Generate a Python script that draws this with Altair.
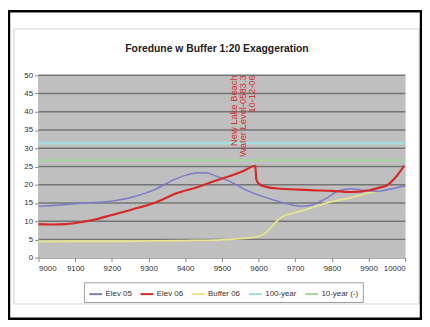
import altair as alt
import pandas as pd

series_names = ["Elev 05", "Elev 06", "Buffer 06", "100-year", "10-year (-)"]
series_colors = ["#7b7bc8", "#d62828", "#e6e68e", "#a6dcdc", "#a6d6a0"]

elev05_x = [9000, 9050, 9100, 9150, 9200, 9260, 9315, 9370, 9405, 9435, 9460, 9475, 9520, 9565,
            9610, 9655, 9690, 9715, 9740, 9760, 9790, 9815, 9850, 9885, 9920, 9960, 10000]
elev05_y = [14.1, 14.4, 14.8, 15.1, 15.5, 16.7, 18.6, 21.4, 22.7, 23.3, 23.2, 22.7, 21.0, 18.6,
            16.8, 15.4, 14.5, 14.1, 14.3, 15.0, 16.6, 18.2, 18.9, 18.5, 18.2, 18.8, 19.7]

elev06_x = [9000, 9040, 9075, 9120, 9160, 9200, 9255, 9315, 9380, 9435, 9470, 9520, 9560, 9591,
            9594, 9600, 9621, 9660, 9700, 9742, 9800, 9850, 9903, 9930, 9948, 9975, 9997]
elev06_y = [9.2, 9.1, 9.2, 9.8, 10.6, 11.7, 13.2, 15.0, 17.8, 19.4, 20.7, 22.3, 23.8, 25.2,
            21.5, 20.3, 19.4, 18.9, 18.7, 18.5, 18.3, 18.0, 18.5, 19.2, 19.7, 22.2, 25.2]

buffer06_x = [9000, 9100, 9200, 9300, 9400, 9480, 9520, 9560, 9590, 9605, 9621, 9640, 9661,
              9697, 9740, 9787, 9850, 9903, 9930]
buffer06_y = [4.4, 4.5, 4.5, 4.6, 4.7, 4.8, 5.0, 5.3, 5.6, 6.0, 6.9, 9.0, 11.0,
              12.3, 13.5, 15.0, 16.4, 17.8, 18.3]

year100_x = [9000, 10000]
year100_y = [31.4, 31.4]
year10_x = [9000, 10000]
year10_y = [26.7, 26.7]

note_x = [9533, 9557, 9581]
note_text = ["New Lake Beach", "Water Level-0583.3", "10-12-06"]

x_ticks = list(range(9000, 10001, 100))
y_ticks = list(range(0, 51, 5))

title_text = "Foredune w Buffer 1:20 Exaggeration"


def frame(name, xs, ys):
    return pd.DataFrame({"x": xs, "y": ys, "series": name})


xscale = alt.Scale(domain=[9000, 10000], nice=False)
yscale = alt.Scale(domain=[0, 50], nice=False)
color_scale = alt.Scale(domain=series_names, range=series_colors)

xenc = alt.X("x:Q", scale=xscale,
             axis=alt.Axis(values=x_ticks, title=None, grid=False, format="d",
                           labelFontSize=8, labelColor="#333333", domainColor="#8a8a8a",
                           tickColor="#8a8a8a", tickSize=4, labelPadding=3))
yenc = alt.Y("y:Q", scale=yscale,
             axis=alt.Axis(values=y_ticks, title=None, grid=False, labelFontSize=8,
                           labelColor="#333333", domainColor="#8a8a8a",
                           tickColor="#8a8a8a", tickSize=4, labelPadding=2))


def line_layer(df, width):
    return alt.Chart(df).mark_line(interpolate="monotone", strokeWidth=width).encode(
        x=xenc, y=yenc,
        color=alt.Color("series:N", scale=color_scale,
                        legend=alt.Legend(title=None, orient="none", legendX=46, legendY=210,
                                          direction="horizontal", columns=5,
                                          symbolType="stroke", symbolSize=170,
                                          symbolStrokeWidth=2, labelFontSize=8,
                                          labelColor="#333333", strokeColor="#a0a0a0",
                                          fillColor="white", padding=4, columnPadding=4,
                                          labelOffset=2)),
    )


box = pd.DataFrame({"k": [0]})
outer = alt.Chart(box).mark_rect(fill=None, stroke="black", strokeWidth=2.5).encode(
    x=alt.value(-30), x2=alt.value(388), y=alt.value(-65), y2=alt.value(247))
inner = alt.Chart(box).mark_rect(fill=None, stroke="#d6d6d6", strokeWidth=1.2).encode(
    x=alt.value(-25), x2=alt.value(386), y=alt.value(-47), y2=alt.value(232))
title = alt.Chart(box).mark_text(fontSize=10.5, fontWeight="bold", font="Liberation Sans",
                                 color="#222222").encode(
    x=alt.value(181), y=alt.value(-27), text=alt.value(title_text))

plot_bg = alt.Chart(pd.DataFrame({"x": [9000], "x2": [10000], "y": [0], "y2": [50]})).mark_rect(
    color="#bfbfbf").encode(x=xenc, x2="x2:Q", y=yenc, y2="y2:Q")

grid = alt.Chart(pd.DataFrame({"y": y_ticks[1:]})).mark_rule(
    color="#747474", strokeWidth=1.4).encode(y=yenc)

notes_df = pd.DataFrame({"x": note_x, "text": note_text, "y": [50] * 3})
notes = alt.Chart(notes_df).mark_text(angle=270, align="right", baseline="middle",
                                      fontSize=9.5, color="#d83030").encode(
    x=xenc, y=yenc, text="text:N")

chart = alt.layer(
    inner, outer, title, plot_bg, grid,
    line_layer(frame("100-year", year100_x, year100_y), 3),
    line_layer(frame("10-year (-)", year10_x, year10_y), 2),
    line_layer(frame("Buffer 06", buffer06_x, buffer06_y), 1.8),
    line_layer(frame("Elev 05", elev05_x, elev05_y), 1.5),
    line_layer(frame("Elev 06", elev06_x, elev06_y), 2.2),
    notes,
).properties(
    width=372, height=185,
    autosize=alt.AutoSizeParams(type="none"),
    padding={"left": 31, "top": 66, "right": 17, "bottom": 64},
    background="white",
).configure_view(stroke=None).configure(font="Liberation Sans")

chart.save("out.html", embed_options={"renderer": "svg", "actions": False})
